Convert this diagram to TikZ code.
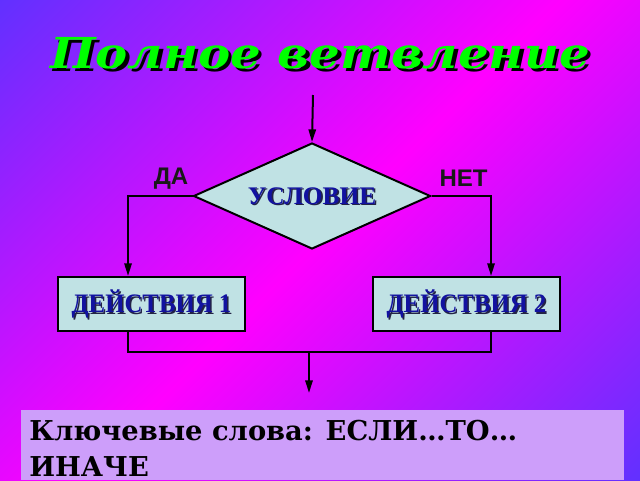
\documentclass[tikz,border=0pt]{standalone}
\usepackage{fontspec}
\usepackage{tikz}
\usetikzlibrary{positioning}
\usetikzlibrary{shapes.geometric}
\usetikzlibrary{arrows.meta}
\newfontfamily\titlefont{DejaVu Serif}
\newfontfamily\keyfont{DejaVu Serif}
\newfontfamily\boxfont{Liberation Serif}
\newfontfamily\labelfont{Liberation Sans}

\definecolor{bgblue}{RGB}{60,60,255}
\definecolor{bgmag}{RGB}{255,0,255}
\definecolor{boxfill}{RGB}{192,226,228}
\definecolor{boxtext}{RGB}{18,18,160}
\definecolor{boxshadow}{RGB}{35,35,70}
\definecolor{titlegreen}{RGB}{0,255,0}
\definecolor{keyfill}{RGB}{205,158,250}

\pgfdeclarehorizontalshading{slidebg}{100bp}{color(0bp)=(bgblue); color(6bp)=(bgblue); color(50bp)=(bgmag); color(94bp)=(bgblue); color(100bp)=(bgblue)}

\newcommand{\shadowtext}[3]{\rlap{\smash{\kern#2\raisebox{-#2}{\textcolor{#1}{#3}}}}#3}

\begin{document}
\begin{tikzpicture}[
x=0.75pt, y=0.75pt,
title/.style={anchor=base, inner sep=0pt, text=titlegreen, font=\titlefont\bfseries\itshape\fontsize{32pt}{36pt}\selectfont},
decision/.style={diamond, draw=black, line width=1.5pt, fill=boxfill, aspect=2.24, minimum width=177.75pt, minimum height=79.5pt, inner sep=0pt, text=boxtext, font=\boxfont\bfseries\fontsize{19pt}{22pt}\selectfont},
action/.style={rectangle, draw=black, line width=1.5pt, fill=boxfill, minimum width=140.25pt, minimum height=40.5pt, inner sep=0pt, text=boxtext, font=\boxfont\bfseries\fontsize{20pt}{24pt}\selectfont},
answer/.style={inner sep=0pt, text=black!90, font=\labelfont\bfseries\fontsize{18pt}{20pt}\selectfont},
keybox/.style={anchor=north west, fill=keyfill, minimum width=452.25pt, minimum height=52.5pt, inner sep=0pt},
keytext/.style={anchor=north west, inner sep=0pt, align=left, text=black, font=\keyfont\bfseries\fontsize{20.5pt}{27pt}\selectfont},
wire/.style={draw=black, line width=1.5pt},
arr/.style={wire, -{Triangle[length=9.5pt, width=5.5pt]}},
]

\useasboundingbox (0,0) rectangle (640,480);
\shade[shading=slidebg, shading angle=-45] (0,0) rectangle (640,480);

\node[title] (title) at (320,412) {\scalebox{1.13}[1]{\shadowtext{black}{2.25pt}{Полное ветвление}}};

\coordinate (in) at (313,385);
\node[decision] (cond) at (312,284) {\raisebox{-2.2pt}{\shadowtext{boxshadow}{1.2pt}{УСЛОВИЕ}}};
\node[answer] (yes) at (171,301.5) {ДА};
\node[answer] (no) at (463.5,301.5) {НЕТ};

\node[action] (act1) at (151.5,176) {\scalebox{0.93}[1]{\shadowtext{boxshadow}{1.2pt}{ДЕЙСТВИЯ 1}}};
\node[action] (act2) at (466.5,176) {\scalebox{0.93}[1]{\shadowtext{boxshadow}{1.2pt}{ДЕЙСТВИЯ 2}}};

\coordinate (j1) at (128,128);
\coordinate (j2) at (491,128);
\coordinate (jm) at (309,128);
\coordinate (out) at (309,87);

\node[keybox] (key) at (21,70) {};
\node[keytext] (keytxt) at (29,60) {Ключевые слова: ЕСЛИ…ТО…\\ИНАЧЕ};

\draw[arr] (in) -- (cond.north);
\draw[arr] (cond.west) -| ([xshift=-17.6pt]act1.north);
\draw[arr] (cond.east) -| ([xshift=18.4pt]act2.north);
\draw[wire] (j1 |- act1.south) -- (j1) -- (j2) -- (j2 |- act2.south);
\draw[arr] (jm) -- (out);
\end{tikzpicture}
\end{document}
